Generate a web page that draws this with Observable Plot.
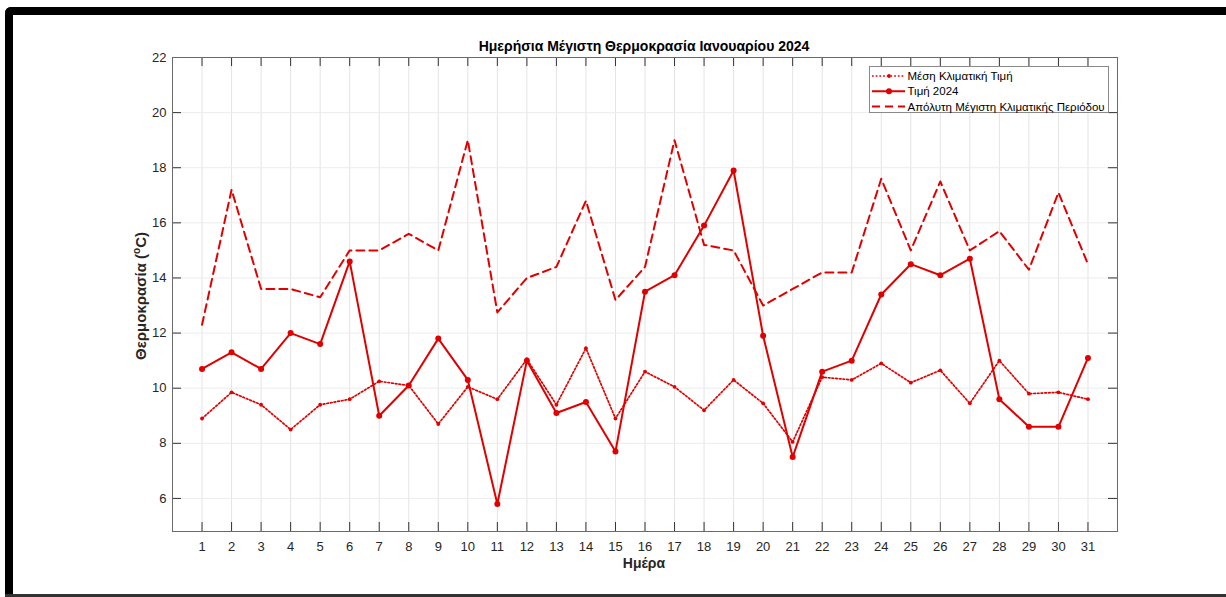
<!DOCTYPE html>
<html>
<head>
<meta charset="utf-8">
<script src="https://cdn.jsdelivr.net/npm/d3@7"></script>
<script src="https://cdn.jsdelivr.net/npm/@observablehq/plot@0.6"></script>
<style>
  html, body { margin: 0; padding: 0; background: #fff; }
  #wrap { position: relative; width: 1226px; height: 597px; overflow: hidden; font-family: "Liberation Sans", Arial, sans-serif; }
  #wrap svg.plot { position: absolute; left: 0; top: 0; }
  .bar { position: absolute; background: #000; }
  .title { position: absolute; left: 0; width: 1288px; text-align: center; top: 38px; font-weight: bold; font-size: 14px; color: #000; }
  .xlabel { position: absolute; left: 0; width: 1288px; text-align: center; top: 555px; font-weight: bold; font-size: 14px; color: #262626; }
  .ylabel { position: absolute; left: 140px; top: 296px; transform: translate(-50%, -50%) rotate(-90deg); white-space: nowrap; font-weight: bold; font-size: 15px; color: #262626; }
  .ylabel sup { font-size: 10px; }
  #legend { position: absolute; left: 869px; top: 66px; }
</style>
</head>
<body>
<div id="wrap">
  <div class="bar" style="left:5px;top:7px;width:1221px;height:8px;border-top-left-radius:6px;"></div>
  <div class="bar" style="left:5px;top:7px;width:8px;height:590px;border-top-left-radius:6px;"></div>
  <div class="bar" style="left:5px;top:594px;width:1221px;height:3px;background:#333;"></div>
  <div class="title">Ημερήσια Μέγιστη Θερμοκρασία Ιανουαρίου 2024</div>
  <div class="xlabel">Ημέρα</div>
  <div class="ylabel">Θερμοκρασία (<sup>o</sup>C)</div>
</div>
<script>
// ---- data ----
const days = [1,2,3,4,5,6,7,8,9,10,11,12,13,14,15,16,17,18,19,20,21,22,23,24,25,26,27,28,29,30,31];
const meanClim = [8.9,9.85,9.4,8.5,9.4,9.6,10.25,10.1,8.7,10.05,9.6,11.05,9.4,11.45,8.9,10.6,10.05,9.2,10.3,9.45,8.05,10.4,10.3,10.9,10.2,10.65,9.45,11.0,9.8,9.85,9.6];
const value2024 = [10.7,11.3,10.7,12.0,11.6,14.6,9.0,10.1,11.8,10.3,5.8,11.0,9.1,9.5,7.7,13.5,14.1,15.9,17.9,11.9,7.5,10.6,11.0,13.4,14.5,14.1,14.7,9.6,8.6,8.6,11.1];
const absMax = [12.3,17.2,13.6,13.6,13.3,15.0,15.0,15.6,15.0,19.0,12.75,14.0,14.4,16.8,13.2,14.4,19.0,15.2,15.0,13.0,13.6,14.2,14.2,17.6,15.0,17.5,15.0,15.7,14.3,17.1,14.5];
const yTicks = [6,8,10,12,14,16,18,20,22];
const seriesNames = ["Μέση Κλιματική Τιμή", "Τιμή 2024", "Απόλυτη Μέγιστη Κλιματικής Περιόδου"];

const red = "#e10000";
const rows = (vals) => days.map((d, i) => ({day: d, v: vals[i]}));
const meanRows = rows(meanClim), valRows = rows(value2024), maxRows = rows(absMax);

const mT = 57, mB = 66, mL = 172, mR = 109, H = 597;
const frameH = H - mT - mB, frameW = 1226 - mL - mR;
const tk = 9;

const chart = Plot.plot({
  width: 1226, height: H,
  marginTop: mT, marginBottom: mB, marginLeft: mL, marginRight: mR,
  x: {domain: [0, 32]},
  y: {domain: [4.8, 22]},
  style: {fontFamily: "'Liberation Sans', Arial, sans-serif", fontSize: "13px", background: "transparent", color: "#262626"},
  marks: [
    Plot.gridX(days, {stroke: "#e4e4e4", strokeOpacity: 1}),
    Plot.gridY(yTicks, {stroke: "#ececec", strokeOpacity: 1}),
    Plot.axisX(days, {anchor: "bottom", tickSize: 0, tickPadding: 10, label: null, fill: "#262626", fontSize: 13, tickFormat: d => String(d)}),
    Plot.axisY(yTicks, {anchor: "left", tickSize: 0, tickPadding: 6, label: null, fill: "#262626", fontSize: 13}),
    // inward ticks (MATLAB style)
    Plot.ruleX(days, {x: d => d, insetTop: frameH - tk, stroke: "#333"}),
    Plot.ruleX(days, {x: d => d, insetBottom: frameH - tk, stroke: "#333"}),
    Plot.ruleY(yTicks, {y: d => d, insetRight: frameW - tk, stroke: "#333"}),
    Plot.ruleY(yTicks, {y: d => d, insetLeft: frameW - tk, stroke: "#333"}),
    Plot.frame({stroke: "#6a6a6a"}),
    // series
    Plot.line(maxRows, {x: "day", y: "v", stroke: red, strokeWidth: 2, strokeDasharray: "8,5"}),
    Plot.line(meanRows, {x: "day", y: "v", stroke: red, strokeWidth: 1.7, strokeDasharray: "1.7,2"}),
    Plot.dot(meanRows, {x: "day", y: "v", r: 1.9, fill: red, stroke: "none"}),
    Plot.line(valRows, {x: "day", y: "v", stroke: red, strokeWidth: 2}),
    Plot.dot(valRows, {x: "day", y: "v", r: 3, fill: red, stroke: "none"})
  ]
});
chart.classList.add("plot");
document.getElementById("wrap").appendChild(chart);

// legend
const lg = d3.create("svg").attr("id", "legend").attr("width", 241).attr("height", 48);
lg.append("rect").attr("x", 0.5).attr("y", 0.5).attr("width", 239).attr("height", 46)
  .attr("fill", "#fff").attr("stroke", "#8a8a8a");
const styles = [
  {dash: "1.7,2", w: 1.7, r: 1.9},
  {dash: null, w: 2, r: 3},
  {dash: "8,5", w: 2, r: 0}
];
seriesNames.forEach((name, i) => {
  const cy = 10 + i * 15.2;
  const s = styles[i];
  const ln = lg.append("line").attr("x1", 3).attr("x2", 36).attr("y1", cy).attr("y2", cy)
    .attr("stroke", red).attr("stroke-width", s.w);
  if (s.dash) ln.attr("stroke-dasharray", s.dash);
  if (s.r) lg.append("circle").attr("cx", 20).attr("cy", cy).attr("r", s.r).attr("fill", red);
  lg.append("text").attr("x", 38.5).attr("y", cy).attr("dy", "0.36em")
    .attr("font-family", "'Liberation Sans', Arial, sans-serif").attr("font-size", 11.5)
    .attr("fill", "#000").text(name);
});
document.getElementById("wrap").appendChild(lg.node());
</script>
</body>
</html>
